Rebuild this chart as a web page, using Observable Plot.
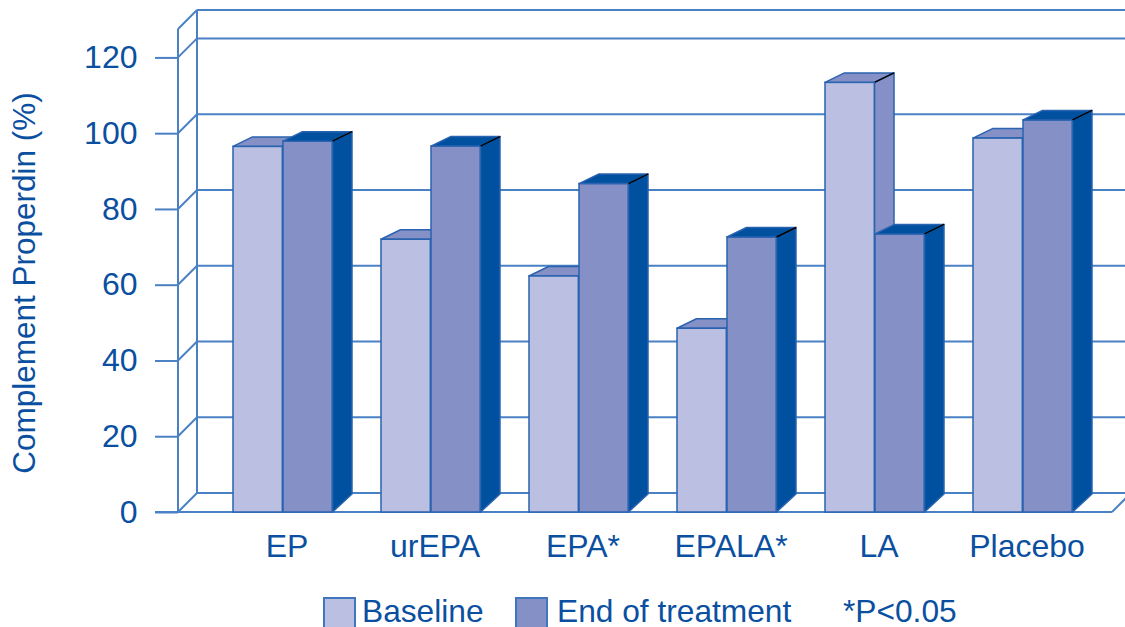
<!DOCTYPE html>
<html>
<head>
<meta charset="utf-8">
<script src="https://cdn.jsdelivr.net/npm/d3@7"></script>
<script src="https://cdn.jsdelivr.net/npm/@observablehq/plot@0.6"></script>
<style>
  html, body { margin: 0; padding: 0; background: #fff; }
  #chart { width: 1125px; }
  .legend { position: relative; width: 1125px; height: 42px; font-family: "Liberation Sans", Arial, sans-serif; font-size: 31.7px; color: #0b4fa0; }
  .legend .sw { position: absolute; top: 12px; width: 29px; height: 40px; border: 2px solid #3f76bd; box-sizing: border-box; }
  .legend .lb { position: absolute; top: 11px; line-height: 31px; white-space: nowrap; }
</style>
</head>
<body>
<div id="chart"></div>
<script>
// ---- data ----
const categories = ["EP", "urEPA", "EPA*", "EPALA*", "LA", "Placebo"];
const baseline = [96.5, 72, 62.3, 48.5, 113.4, 98.7];
const endOfTreatment = [97.9, 96.6, 86.7, 72.6, 73.4, 103.5];
const yTicks = [0, 20, 40, 60, 80, 100, 120];
const yMax = 127.5;
const seriesNames = ["Baseline", "End of treatment"];
const note = "*P<0.05";
const yLabel = "Complement Properdin (%)";

const rows = categories.map((c, i) => ({cat: c, base: baseline[i], end: endOfTreatment[i]}));

// ---- styles ----
const textColor = "#0b4fa0";
const lineColor = "#4a80c4";
const edgeColor = "#2a63b0";
const cLight = "#bbc0e2", cMid = "#8590c6", cDark = "#0050a0";
const wallDx = 19, wallDy = -19;      // depth of the walls
const barDx = 19.5, barDy = -9.5;     // depth of a bar top
const step = 148.2;
const insB = [24, 73.5], insE = [74, 123.5]; // bar offsets inside a band

function walls(index, scales, values, dims) {
  const {x, y} = scales;
  const g = d3.create("svg:g").attr("fill", "none").attr("stroke", lineColor).attr("stroke-width", 2);
  const L = dims.marginLeft, R = dims.width - dims.marginRight;
  const levels = yTicks.concat([yMax]);
  for (const t of levels) {
    g.append("line").attr("x1", L + wallDx).attr("x2", dims.width + 30)
      .attr("y1", y(t) + wallDy).attr("y2", y(t) + wallDy);
  }
  g.append("line").attr("x1", L + wallDx).attr("x2", L + wallDx).attr("y1", y(yMax) + wallDy).attr("y2", y(0) + wallDy);
  for (const t of levels) {
    g.append("line").attr("x1", L).attr("x2", L + wallDx).attr("y1", y(t)).attr("y2", y(t) + wallDy);
  }
  g.append("line").attr("x1", L).attr("x2", L).attr("y1", y(yMax)).attr("y2", y(0));
  g.append("line").attr("x1", L - 23).attr("x2", R).attr("y1", y(0)).attr("y2", y(0));
  g.append("line").attr("x1", R).attr("x2", R + wallDx).attr("y1", y(0)).attr("y2", y(0) + wallDy);
  return g.node();
}

function faces(key, ins, topFill, sideFill) {
  return (index, scales, values, dims) => {
    const {x, y} = scales;
    const g = d3.create("svg:g").attr("stroke", edgeColor).attr("stroke-width", 1.5).attr("stroke-linejoin", "round");
    for (const r of rows) {
      const x1 = x(r.cat) + ins[0], x2 = x(r.cat) + ins[1];
      const yt = y(r[key]), y0 = y(0);
      g.append("path").attr("fill", sideFill)
        .attr("d", `M${x2},${yt}L${x2 + barDx},${yt + barDy}L${x2 + barDx},${y0 + wallDy + 1}L${x2},${y0}Z`);
      g.append("path").attr("fill", topFill)
        .attr("d", `M${x1},${yt}L${x1 + barDx},${yt + barDy}L${x2 + barDx},${yt + barDy}L${x2},${yt}Z`);
      g.append("line").attr("stroke", "#000").attr("stroke-width", 1.5)
        .attr("x1", x2).attr("y1", yt).attr("x2", x2 + barDx).attr("y2", yt + barDy);
    }
    return g.node();
  };
}

const chart = Plot.plot({
  width: 1125,
  height: 585,
  marginTop: 29,
  marginBottom: 73,
  marginLeft: 178,
  marginRight: 13,
  style: {fontFamily: "'Liberation Sans', Arial, sans-serif", fontSize: "30px", color: textColor, background: "#fff", overflow: "visible"},
  x: {type: "band", domain: categories, range: [208, 208 + 6 * step], padding: 0},
  y: {domain: [0, yMax]},
  marks: [
    walls,
    Plot.axisY({ticks: yTicks, tickSize: 23, tickPadding: 18, stroke: lineColor, strokeWidth: 2, fill: textColor, fontSize: 32, label: null}),
    faces("base", insB, cMid, cMid),
    Plot.barY(rows, {x: "cat", y: "base", fill: cLight, stroke: edgeColor, strokeWidth: 1.5, insetLeft: insB[0], insetRight: step - insB[1]}),
    Plot.barY(rows, {x: "cat", y: "end", fill: cMid, stroke: edgeColor, strokeWidth: 1.5, insetLeft: insE[0], insetRight: step - insE[1]}),
    faces("end", insE, cDark, cDark),
    Plot.axisX({tickSize: 0, tickPadding: 22, dx: 3.5, fontSize: 32, fill: textColor, label: null}),
    Plot.text([yLabel], {frameAnchor: "left", textAnchor: "middle", rotate: -90, dx: -154, dy: 12, fontSize: 31.5, fill: textColor, text: d => d})
  ]
});
document.getElementById("chart").appendChild(chart);

// legend (below the svg)
const leg = document.createElement("div");
leg.className = "legend";
const items = [
  {sw: cLight, swLeft: 323, label: seriesNames[0], left: 362},
  {sw: cMid, swLeft: 515, label: seriesNames[1], left: 557},
  {sw: null, label: note, left: 843}
];
for (const it of items) {
  if (it.sw) {
    const s = document.createElement("div");
    s.className = "sw"; s.style.left = it.swLeft + "px"; s.style.width = "33px"; s.style.background = it.sw;
    leg.appendChild(s);
  }
  const t = document.createElement("div");
  t.className = "lb"; t.style.left = it.left + "px"; t.textContent = it.label;
  leg.appendChild(t);
}
document.body.appendChild(leg);
</script>
</body>
</html>
